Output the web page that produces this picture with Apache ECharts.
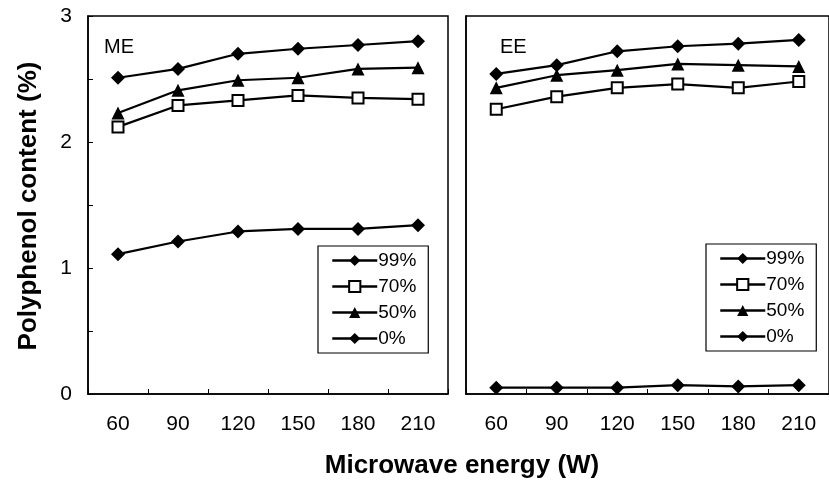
<!DOCTYPE html>
<html>
<head>
<meta charset="utf-8">
<script src="https://cdn.jsdelivr.net/npm/echarts@6/dist/echarts.min.js"></script>
<style>
	html, body { margin: 0; padding: 0; background: #fff; }
	#chart { width: 829px; height: 484px; }
</style>
</head>
<body>
<div id="chart"></div>
<script>
	// 微波功率 (W)
	var energy = ['60', '90', '120', '150', '180', '210'];
	var names = ['99%', '70%', '50%', '0%'];

	// ME 面板
	var me99 = [2.51, 2.58, 2.70, 2.74, 2.77, 2.80];
	var me70 = [2.12, 2.29, 2.33, 2.37, 2.35, 2.34];
	var me50 = [2.23, 2.41, 2.49, 2.51, 2.58, 2.59];
	var me0 = [1.11, 1.21, 1.29, 1.31, 1.31, 1.34];

	// EE 面板
	var ee99 = [2.54, 2.61, 2.72, 2.76, 2.78, 2.81];
	var ee70 = [2.26, 2.36, 2.43, 2.46, 2.43, 2.48];
	var ee50 = [2.43, 2.53, 2.57, 2.62, 2.61, 2.60];
	var ee0 = [0.05, 0.05, 0.05, 0.07, 0.06, 0.07];

	var font = '"Liberation Sans", Arial, sans-serif';

	// 每个系列的标记样式
	var marks = {
		'99%': { symbol: 'diamond', symbolSize: 14, color: '#000' },
		'70%': { symbol: 'rect', symbolSize: 11, color: '#fff' },
		'50%': { symbol: 'triangle', symbolSize: 13, color: '#000' },
		'0%': { symbol: 'diamond', symbolSize: 14, color: '#000' }
	};

	function makeSeries(name, data, idx) {
		var m = marks[name];
		return {
			name: name,
			type: 'line',
			xAxisIndex: idx,
			yAxisIndex: idx,
			data: data,
			symbol: m.symbol,
			symbolSize: m.symbolSize,
			showAllSymbol: true,
			lineStyle: { color: '#000', width: 2.2 },
			itemStyle: { color: m.color, borderColor: '#000', borderWidth: m.color === '#fff' ? 2 : 0 },
			emphasis: { disabled: true },
			animation: false
		};
	}

	function makeLegend(left, top) {
		return {
			data: names,
			orient: 'vertical',
			left: left,
			top: top,
			itemWidth: 45,
			itemHeight: 14,
			itemGap: 7,
			padding: [5, 12, 5, 13],
			borderColor: '#000',
			borderWidth: 1.2,
			backgroundColor: '#fff',
			selectedMode: false,
			lineStyle: { width: 2.5, color: '#000' },
			textStyle: { fontFamily: font, fontSize: 19, color: '#000', padding: [0, 0, 0, -4] }
		};
	}

	function xAxis(idx) {
		return {
			type: 'category',
			gridIndex: idx,
			data: energy,
			boundaryGap: true,
			axisLine: { lineStyle: { color: '#000', width: 1.5 } },
			axisTick: { show: true, inside: true, length: 5, lineStyle: { color: '#000' } },
			axisLabel: { color: '#000', fontFamily: font, fontSize: 21, margin: 20 },
			splitLine: { show: false }
		};
	}

	function yAxis(idx) {
		return {
			type: 'value',
			gridIndex: idx,
			min: 0,
			max: 3,
			interval: 0.5,
			axisLine: { show: true, lineStyle: { color: '#000', width: 1.5 } },
			axisTick: { show: idx === 0, inside: true, length: 5, lineStyle: { color: '#000' } },
			axisLabel: {
				show: idx === 0,
				color: '#000',
				fontFamily: font,
				fontSize: 21,
				margin: 16,
				formatter: function(v) { return v % 1 === 0 ? v : ''; }
			},
			splitLine: { show: false }
		};
	}

	var chart = echarts.init(document.getElementById('chart'));
	chart.setOption({
		backgroundColor: '#fff',
		animation: false,
		grid: [
			{ left: 88, top: 16, width: 360, height: 378, show: true, borderColor: '#000', borderWidth: 1.5 },
			{ left: 466, top: 16, width: 370, height: 378, show: true, borderColor: '#000', borderWidth: 1.5 }
		],
		xAxis: [xAxis(0), xAxis(1)],
		yAxis: [yAxis(0), yAxis(1)],
		legend: [makeLegend(318, 246), makeLegend(706, 244)],
		graphic: [
			{ type: 'text', left: 104, top: 37, style: { text: 'ME', fontFamily: font, fontSize: 20, fill: '#000' } },
			{ type: 'text', left: 500, top: 37, style: { text: 'EE', fontFamily: font, fontSize: 20, fill: '#000' } },
			{
				type: 'text', x: 29, y: 206, rotation: Math.PI / 2,
				style: { text: 'Polyphenol content (%)', fontFamily: font, fontWeight: 'bold', fontSize: 26, fill: '#000', align: 'center', verticalAlign: 'middle' }
			},
			{
				type: 'text', x: 462, y: 466,
				style: { text: 'Microwave energy (W)', fontFamily: font, fontWeight: 'bold', fontSize: 26, fill: '#000', align: 'center', verticalAlign: 'middle' }
			}
		],
		series: [
			makeSeries('99%', me99, 0),
			makeSeries('70%', me70, 0),
			makeSeries('50%', me50, 0),
			makeSeries('0%', me0, 0),
			makeSeries('99%', ee99, 1),
			makeSeries('70%', ee70, 1),
			makeSeries('50%', ee50, 1),
			makeSeries('0%', ee0, 1)
		]
	});
</script>
</body>
</html>
